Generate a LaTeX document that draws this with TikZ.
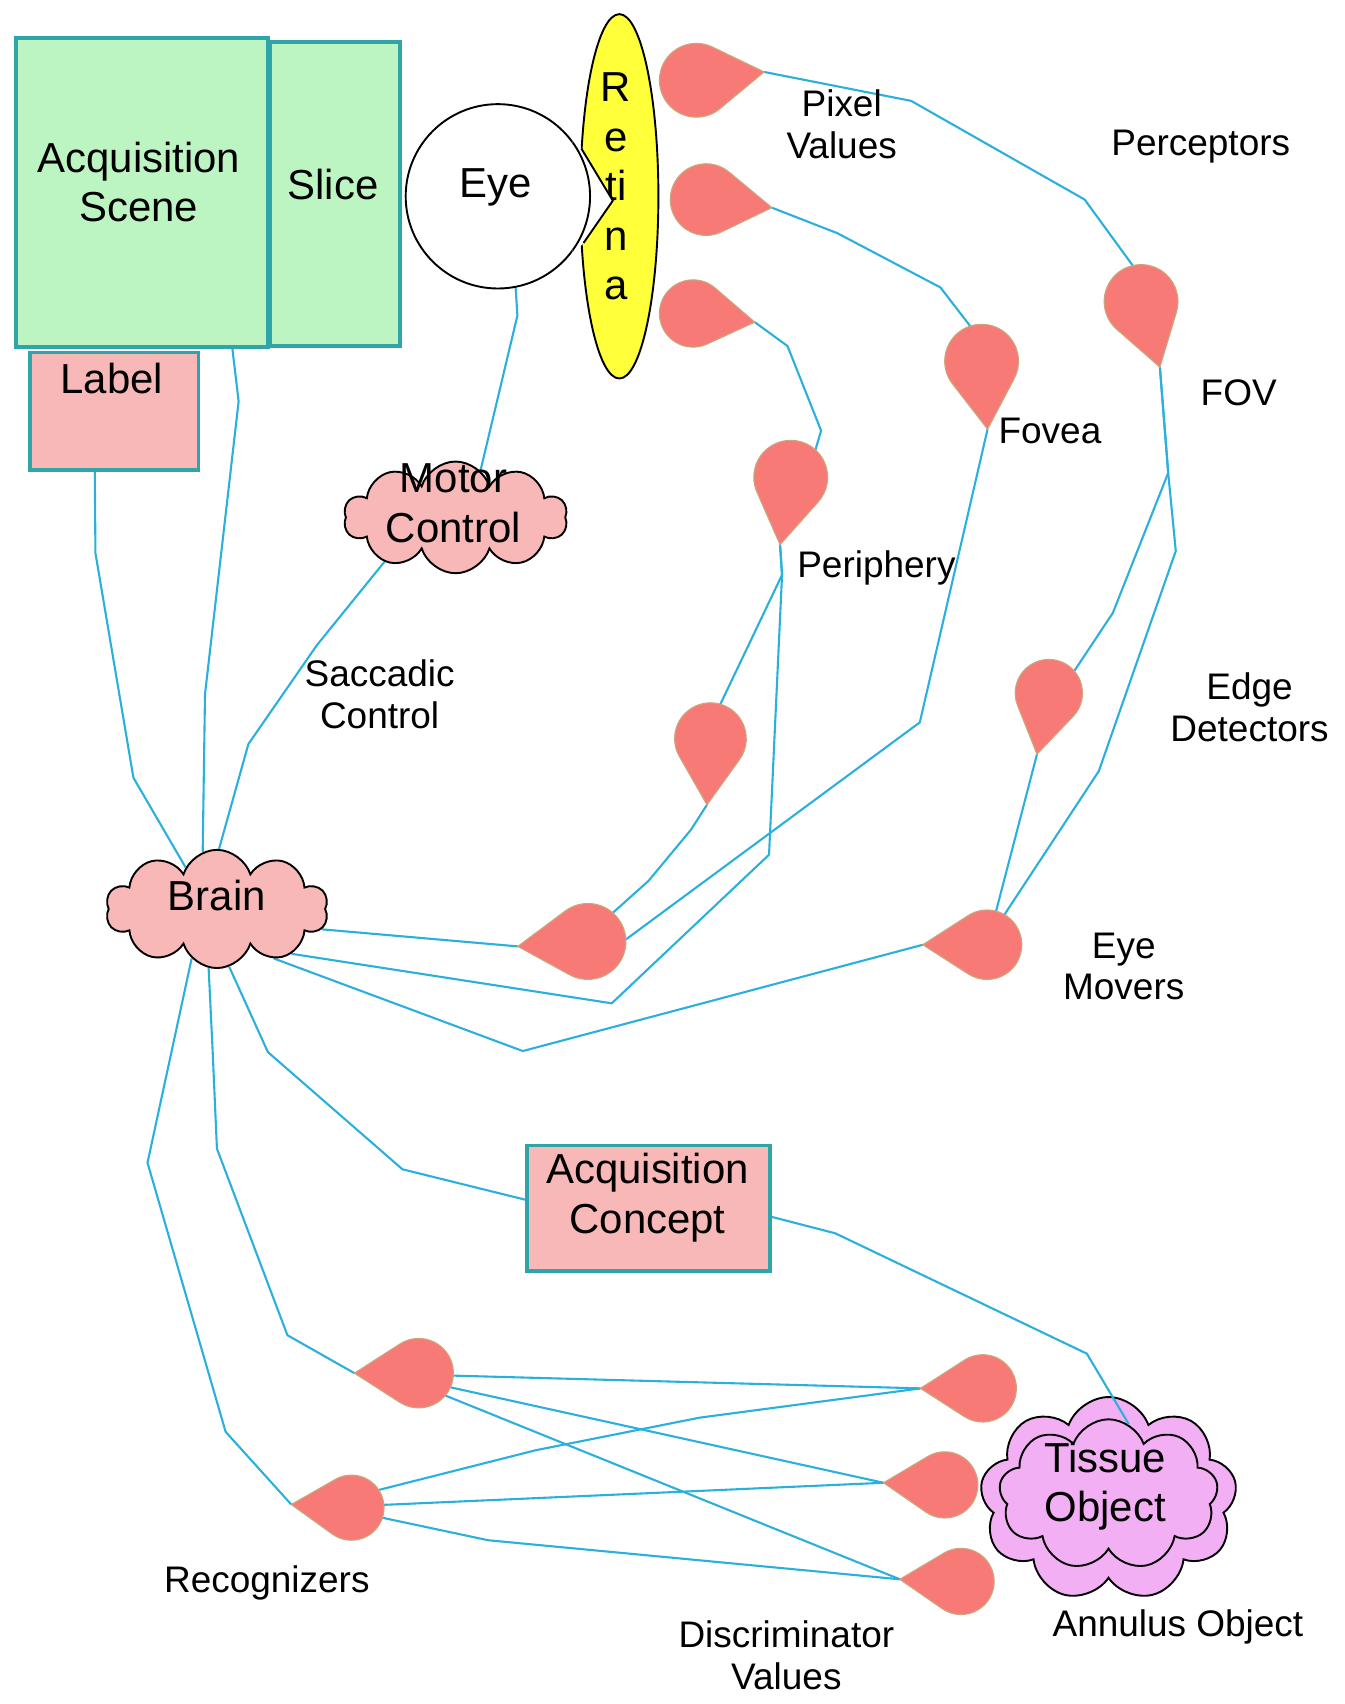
\documentclass[tikz,border=0pt]{standalone}
\usepackage{fontspec}
\setmainfont{Liberation Sans}
\usetikzlibrary{shapes.geometric,shapes.symbols,calc,backgrounds}
\definecolor{lgreen}{HTML}{BDF5C2}
\definecolor{tealb}{HTML}{2FA5AA}
\definecolor{lpink}{HTML}{F7B8B7}
\definecolor{orchidc}{HTML}{F3AFF3}
\definecolor{dropc}{HTML}{F77A76}
\definecolor{dropb}{HTML}{CDA47C}
\definecolor{wire}{HTML}{2BB0DC}
\definecolor{yel}{HTML}{FFFF3A}
\tikzset{
 big/.style={font=\fontsize{22}{26}\selectfont, align=center, inner sep=0pt},
 small/.style={font=\fontsize{19.4}{22}\selectfont, align=center, inner sep=0pt},
 gbox/.style={draw=tealb, line width=2pt, fill=lgreen, inner sep=0pt},
 pbox/.style={draw=tealb, line width=2pt, fill=lpink, inner sep=0pt},
 pcloud/.style={cloud, cloud puffs=10, cloud puff arc=145, cloud ignores aspect, draw=black, line width=1pt, fill=lpink, inner sep=0pt},
 tcloud/.style={cloud, cloud puffs=9, cloud puff arc=140, cloud ignores aspect, draw=black, line width=1pt, fill=orchidc, inner sep=0pt},
 conn/.style={draw=wire, line width=1.1pt, line join=round},
 dropshape/.style={fill=dropc, draw=dropb, line width=0.6pt},
 anchorc/.style={circle, inner sep=0pt, outer sep=0pt, draw=none},
}
\newcommand\mydrop[5]{%
 \node[anchorc, minimum size={2*#5*0.02cm}] (#1) at (#2,#3) {};
 \coordinate (#1t) at ($(#2,#3)+(#4:{1.85*#5})$);
 \path[dropshape] (#1t) -- ($(#2,#3)+({#4+57}:#5)$) arc[start angle={#4+57}, end angle={#4+303}, radius=#5] -- cycle;
}
\begin{document}
\begin{tikzpicture}[x=0.02cm, y=-0.02cm]
\useasboundingbox (0,0) rectangle (1240,1571);
\begin{scope}[on background layer]
\fill[white] (0,0) rectangle (1240,1571);
\end{scope}
% boxes
\node[gbox, minimum width=4.64cm, minimum height=5.7cm] (scene) at (131,177.5) {};
\node[big] (scenetext) at (128,168) {Acquisition\\Scene};
\node[gbox, minimum width=2.4cm, minimum height=5.6cm] (slice) at (309,179) {};
\node[big] (slicetext) at (307,170) {Slice};
\node[pbox, minimum width=3.1cm, minimum height=2.16cm] (label) at (105.5,379) {};
\node[big] (labeltext) at (103,349) {Label};
\node[pbox, minimum width=4.48cm, minimum height=2.32cm] (concept) at (598,1114) {};
\node[big] (concepttext) at (597,1104) {Acquisition\\Concept};
% eye and retina
\node[circle, draw=black, line width=1pt, fill=white, minimum size=3.4cm, inner sep=0pt] (eye) at (459,181) {};
\node[big] (eyetext) at (457,173) {Eye};
\node[ellipse, draw=black, line width=1pt, fill=yel, minimum width=1.44cm, minimum height=6.72cm, inner sep=0pt] (retina) at (571,181) {};
\node[big] (retinatext) at (568,172) {R\\e\\ti\\n\\a};
\fill[white] (528,128) -- (536,137) -- (565,185) -- (538,224) -- (528,234) -- cycle;
\draw[black, line width=1pt, line join=round] (536,137) -- (565,185) -- (538,224);
\begin{scope}
\clip (528,128) -- (536,137) -- (565,185) -- (538,224) -- (528,234) -- cycle;
\draw[black, line width=1pt] (459,181) circle[radius=85];
\end{scope}
% clouds
\node[pcloud, minimum width=4.12cm, minimum height=2.06cm] (motor) at (420,477) {};
\node[big] (motortext) at (418,464) {Motor\\Control};
\node[pcloud, minimum width=4.1cm, minimum height=2.18cm] (brain) at (200,838) {};
\node[big] (braintext) at (200,826) {Brain};
\node[tcloud, minimum width=4.74cm, minimum height=3.76cm] (tissueout) at (1022,1382) {};
\node[tcloud, minimum width=4.04cm, minimum height=2.78cm] (tissuein) at (1022,1378) {};
\node[big] (tissuetext) at (1019,1370) {Tissue\\Object};
% drops
\mydrop{T1}{642}{74}{-7}{34}
\mydrop{T2}{651}{184}{7}{33}
\mydrop{T3}{639}{289}{8}{31}
\mydrop{T4}{1052}{278}{74}{34}
\mydrop{T5}{905}{333}{85}{34}
\mydrop{T6}{729}{440}{99}{34}
\mydrop{T7}{655}{681}{93}{33}
\mydrop{T8}{967}{639}{101}{31}
\mydrop{T9}{542}{868}{176}{35}
\mydrop{T10}{910}{871}{180}{32}
\mydrop{T11}{386}{1266}{180}{32}
\mydrop{T12}{324}{1390}{183}{30}
\mydrop{T13}{906}{1280}{180}{31}
\mydrop{T14}{871}{1369}{182}{30.5}
\mydrop{T15}{886}{1458}{182}{30.5}
% connectors
\begin{scope}[on background layer]
\draw[conn] (T1t) -- (840,93) -- (1000,184) -- (T4.103);
\draw[conn] (T2t) -- (772,215) -- (867,265) -- (T5.108);
\draw[conn] (T3t) -- (726,319) -- (757,397) -- (T6.48);
\draw[conn] (T6t) -- (721,530) -- (T7.74);
\draw[conn] (T6t) -- (721,530) -- (709,788) -- (564,925) -- (brain.-31);
\draw[conn] (T7t) -- (637,765) -- (598,812) -- (T9.49);
\draw[conn] (T5t) -- (848,666) -- (T9.3);
\draw[conn] (brain.-11) -- (T9t);
\draw[conn] (brain.-41) -- (482,969) -- (T10t);
\draw[conn] (T4t) -- (1077,436) -- (1026,565) -- (T8.41);
\draw[conn] (T4t) -- (1077,436) -- (1084,508) -- (1013,711) -- (T10.60);
\draw[conn] (T8t) -- (T10.75);
\draw[conn] (eye.-79) -- (477,291) -- (motor.62);
\draw[conn] (motor.212) -- (292,595) -- (229,686) -- (brain.88);
\draw[conn] (label.-108) -- (88,510) -- (123,717) -- (brain.127);
\draw[conn] (scene.-60.4) -- (220,370) -- (189,640) -- (brain.104);
\draw[conn] (brain.-78) -- (247,970) -- (371,1078) -- (concept.176);
\draw[conn] (brain.-98) -- (196,968) -- (200,1059) -- (265,1231) -- (T11t);
\draw[conn] (brain.-117) -- (136,1072) -- (208,1320) -- (T12t);
\draw[conn] (T11.-4) -- (T13t);
\draw[conn] (T11.-24) -- (T14t);
\draw[conn] (T11.-40) -- (T15t);
\draw[conn] (T12.33) -- (494,1337) -- (645,1307) -- (T13t);
\draw[conn] (T12.5) -- (T14t);
\draw[conn] (T12.-18) -- (450,1420) -- (T15t);
\end{scope}
\draw[conn] (concept.-4) -- (770,1137) -- (1002,1248) -- (tissuein.74);
% labels
\node[small] (pixel) at (776,115) {Pixel\\Values};
\node[small] (perceptors) at (1107,135) {Perceptors};
\node[small] (fov) at (1142,362) {FOV};
\node[small] (fovea) at (968,397) {Fovea};
\node[small] (periphery) at (808,524) {Periphery};
\node[small] (saccadic) at (350,640) {Saccadic\\Control};
\node[small] (edge) at (1152,652) {Edge\\Detectors};
\node[small] (eyemovers) at (1036,891) {Eye\\Movers};
\node[small] (recognizers) at (246,1459) {Recognizers};
\node[small] (discrim) at (725,1526) {Discriminator\\Values};
\node[small] (annulus) at (1086,1500) {Annulus Object};
\end{tikzpicture}
\end{document}
